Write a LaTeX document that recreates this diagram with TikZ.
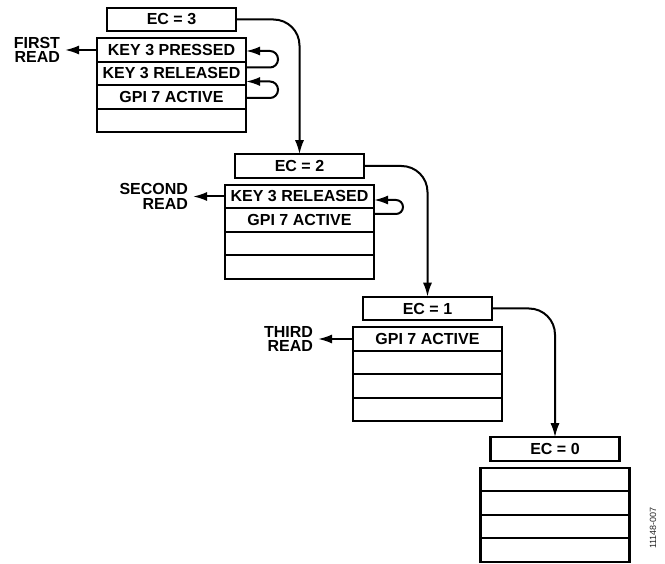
\documentclass[tikz,border=0pt]{standalone}
\usepackage{fontspec}
\setmainfont{Liberation Sans}
\usetikzlibrary{arrows.meta,positioning}
\tikzset{
  ecbox/.style={draw,line width=2.3pt,outer sep=0pt,inner sep=0pt,minimum width=129pt,
    minimum height=23.5pt,font=\bfseries\fontsize{16}{14.5}\selectfont},
  slot/.style={draw,line width=2.3pt,outer sep=0pt,inner sep=0pt,minimum width=149pt,
    minimum height=23.5pt,font=\bfseries\fontsize{16}{14.5}\selectfont},
  readlbl/.style={align=right,inner sep=0pt,outer xsep=5pt,
    font=\bfseries\fontsize{16}{14.5}\selectfont},
  flow/.style={-{Latex[length=14pt,width=9pt]},line width=2pt,rounded corners=26pt},
  back/.style={-{Latex[length=14pt,width=9pt]},line width=2pt,rounded corners=8pt}
}

\begin{document}
\begin{tikzpicture}[x=1pt,y=-1pt,node distance=0pt]
\useasboundingbox (0,0) rectangle (665,564);

\node[ecbox] (ec3) at (171.5,19.5) {EC = 3};
\node[slot,below=7pt of ec3] (s3a) {KEY 3 PRESSED};
\node[slot,below=of s3a] (s3b) {KEY 3 RELEASED};
\node[slot,below=of s3b] (s3c) {GPI 7 ACTIVE};
\node[slot,below=of s3c] (s3d) {};
\node[readlbl,left=32pt of s3a] (r1) {FIRST\\READ};

\node[ecbox] (ec2) at (299.5,166) {EC = 2};
\node[slot,below=7pt of ec2] (s2a) {KEY 3 RELEASED};
\node[slot,below=of s2a] (s2b) {GPI 7 ACTIVE};
\node[slot,below=of s2b] (s2c) {};
\node[slot,below=of s2c] (s2d) {};
\node[readlbl,left=32pt of s2a] (r2) {SECOND\\READ};

\node[ecbox] (ec1) at (427.5,308.5) {EC = 1};
\node[slot,below=7pt of ec1] (s1a) {GPI 7 ACTIVE};
\node[slot,below=of s1a] (s1b) {};
\node[slot,below=of s1b] (s1c) {};
\node[slot,below=of s1c] (s1d) {};
\node[readlbl,left=35pt of s1a] (r3) {THIRD\\READ};

\node[ecbox] (ec0) at (555,449) {EC = 0};
\node[slot,below=7pt of ec0] (s0a) {};
\node[slot,below=of s0a] (s0b) {};
\node[slot,below=of s0b] (s0c) {};
\node[slot,below=of s0c] (s0d) {};

\node[rotate=90,inner sep=0pt,font=\fontsize{9}{10}\selectfont,text=black!85] (fig) at (653,528) {11148-007};

\draw[flow] (ec3.east) -| (ec2.north);
\draw[flow] (ec2.east) -| (ec1.north);
\draw[flow] (ec1.east) -| (ec0.north);

\draw[flow] (s3a.west) -- (r1.east);
\draw[flow] (s2a.west) -- (r2.east);
\draw[flow] (s1a.west) -- (r3.east);

\draw[back] ([yshift=6pt]s3b.east) -- ++(32,0) |- ([yshift=-1pt]s3a.east);
\draw[back] ([yshift=-1pt]s3c.east) -- ++(32,0) |- ([yshift=-8pt]s3b.east);
\draw[back,rounded corners=7pt] ([yshift=6pt]s2b.east) -- ++(29,0) |- ([yshift=-3.5pt]s2a.east);

\end{tikzpicture}
\end{document}
